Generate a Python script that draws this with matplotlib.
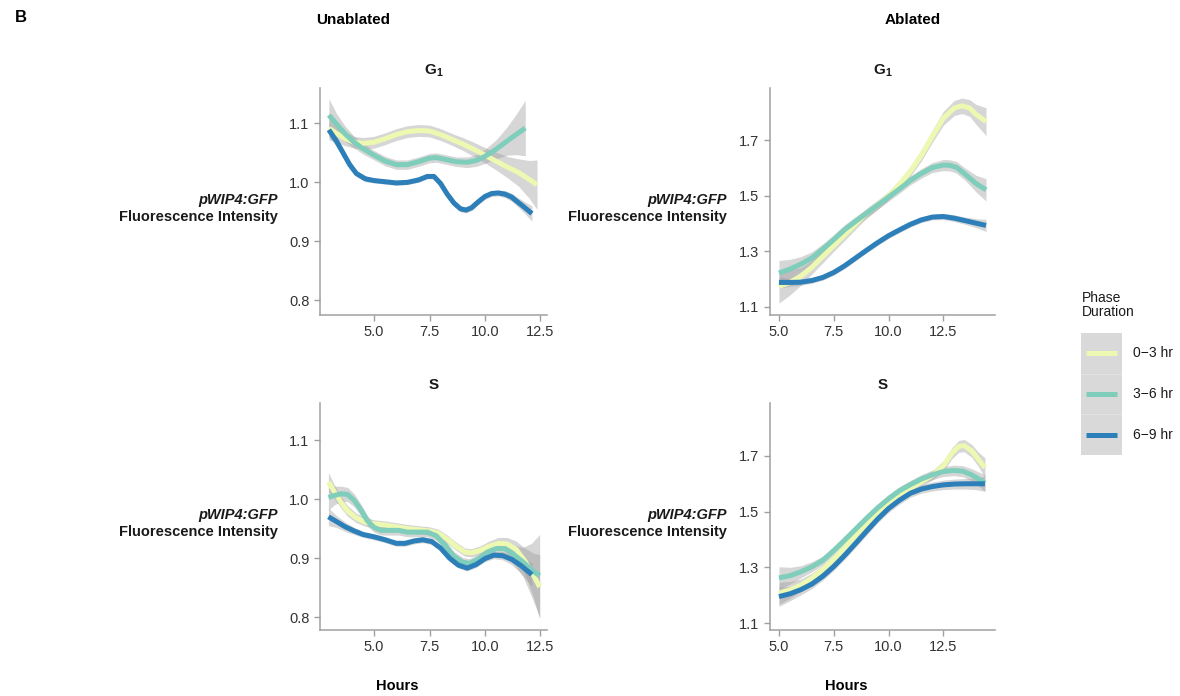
import numpy as np
import matplotlib.pyplot as plt

plt.rcParams['font.family'] = ['Liberation Sans', 'DejaVu Sans']
plt.rcParams['mathtext.fontset'] = 'custom'
plt.rcParams['mathtext.rm'] = 'Liberation Sans'
plt.rcParams['mathtext.bf'] = 'Liberation Sans:bold'

phases = ['0\u22123 hr', '3\u22126 hr', '6\u22129 hr']
colors = ['#edf8b1', '#7fcdbb', '#2c7fb8']

# Unablated, G1  (order: 0-3 hr, 3-6 hr, 6-9 hr)
ug1_x = [[2.96, 3.3, 3.7, 4.1, 4.5, 5.0, 5.5, 6.0, 6.5, 7.0, 7.5, 8.0, 8.5, 9.0, 9.5, 10.0, 10.5, 11.0, 11.5, 12.0, 12.35],
         [2.96, 3.3, 3.7, 4.1, 4.5, 5.0, 5.5, 6.0, 6.5, 7.0, 7.5, 7.8, 8.2, 8.7, 9.2, 9.6, 10.0, 10.5, 11.0, 11.4, 11.82],
         [2.96, 3.3, 3.6, 3.9, 4.2, 4.6, 5.0, 5.5, 6.0, 6.5, 7.0, 7.4, 7.7, 8.0, 8.3, 8.6, 8.9, 9.15, 9.4, 9.7,
          10.0, 10.3, 10.6, 10.9, 11.2, 11.5, 11.8, 12.12]]
ug1_y = [[1.092, 1.083, 1.074, 1.068, 1.066, 1.068, 1.074, 1.081, 1.086, 1.088, 1.087, 1.081, 1.073, 1.065, 1.056,
          1.046, 1.036, 1.026, 1.017, 1.005, 0.996],
         [1.114, 1.099, 1.082, 1.068, 1.057, 1.046, 1.036, 1.030, 1.030, 1.035, 1.041, 1.042, 1.039, 1.035, 1.034,
          1.037, 1.044, 1.056, 1.070, 1.081, 1.092],
         [1.089, 1.070, 1.050, 1.030, 1.015, 1.006, 1.003, 1.001, 0.999, 1.000, 1.004, 1.010, 1.010, 0.998, 0.980,
          0.965, 0.955, 0.953, 0.957, 0.967, 0.976, 0.981, 0.982, 0.980, 0.975, 0.966, 0.957, 0.947]]
ug1_se = [[0.020, 0.015, 0.012, 0.010, 0.010, 0.010, 0.010, 0.010, 0.010, 0.010, 0.010, 0.010, 0.010, 0.011, 0.012,
           0.013, 0.015, 0.018, 0.023, 0.032, 0.042],
          [0.028, 0.018, 0.013, 0.010, 0.009, 0.008, 0.008, 0.008, 0.008, 0.008, 0.008, 0.008, 0.008, 0.008, 0.009,
           0.010, 0.012, 0.016, 0.024, 0.034, 0.047],
          [0.012, 0.009, 0.007, 0.006, 0.005, 0.005, 0.004, 0.004, 0.004, 0.004, 0.004, 0.004, 0.004, 0.004, 0.005,
           0.005, 0.005, 0.005, 0.005, 0.005, 0.005, 0.005, 0.005, 0.006, 0.007, 0.008, 0.010, 0.013]]

# Ablated, G1
ag1_x = [[5.0, 5.5, 6.0, 6.5, 7.0, 7.5, 8.0, 8.5, 9.0, 9.5, 10.0, 10.5, 11.0, 11.5, 12.0, 12.5, 13.0, 13.35, 13.7,
          14.0, 14.45],
         [5.0, 5.5, 6.0, 6.5, 7.0, 7.5, 8.0, 8.5, 9.0, 9.5, 10.0, 10.5, 11.0, 11.5, 12.0, 12.5, 12.8, 13.1, 13.5,
          14.0, 14.45],
         [5.0, 5.5, 6.0, 6.5, 7.0, 7.5, 8.0, 8.5, 9.0, 9.5, 10.0, 10.5, 11.0, 11.5, 12.0, 12.5, 13.0, 13.5, 14.0,
          14.45]]
ag1_y = [[1.174, 1.188, 1.210, 1.243, 1.281, 1.320, 1.359, 1.398, 1.437, 1.467, 1.500, 1.540, 1.588, 1.645, 1.713,
          1.778, 1.815, 1.823, 1.815, 1.792, 1.766],
         [1.222, 1.236, 1.254, 1.276, 1.308, 1.342, 1.378, 1.408, 1.437, 1.466, 1.495, 1.524, 1.555, 1.580, 1.601,
          1.610, 1.609, 1.602, 1.577, 1.543, 1.521],
         [1.188, 1.188, 1.189, 1.195, 1.206, 1.224, 1.248, 1.276, 1.304, 1.331, 1.356, 1.377, 1.397, 1.413, 1.423,
          1.425, 1.419, 1.410, 1.401, 1.393]]
ag1_se = [[0.060, 0.045, 0.032, 0.025, 0.022, 0.020, 0.020, 0.018, 0.018, 0.017, 0.016, 0.017, 0.018, 0.020, 0.022,
           0.025, 0.027, 0.028, 0.030, 0.036, 0.050],
          [0.045, 0.035, 0.027, 0.022, 0.019, 0.018, 0.018, 0.017, 0.016, 0.015, 0.015, 0.015, 0.016, 0.017, 0.018,
           0.020, 0.020, 0.021, 0.022, 0.030, 0.040],
          [0.020, 0.014, 0.011, 0.010, 0.010, 0.010, 0.010, 0.010, 0.010, 0.010, 0.010, 0.010, 0.010, 0.010, 0.010,
           0.011, 0.012, 0.013, 0.016, 0.022]]

# Unablated, S
us_x = [[2.94, 3.2, 3.5, 3.8, 4.2, 4.6, 5.0, 5.5, 6.0, 6.5, 7.0, 7.5, 7.9, 8.3, 8.7, 9.1, 9.4, 9.8, 10.2, 10.6,
         11.0, 11.4, 11.8, 12.2, 12.47],
        [2.94, 3.2, 3.5, 3.8, 4.1, 4.4, 4.7, 5.0, 5.3, 5.7, 6.1, 6.5, 7.0, 7.4, 7.8, 8.2, 8.6, 9.0, 9.3, 9.7, 10.1,
         10.5, 10.9, 11.3, 11.7, 12.1, 12.47],
        [2.94, 3.3, 3.7, 4.1, 4.5, 5.0, 5.5, 6.0, 6.4, 6.8, 7.2, 7.6, 8.0, 8.4, 8.8, 9.2, 9.6, 10.0, 10.4, 10.8, 11.2,
         11.6, 12.12]]
us_y = [[1.029, 1.013, 0.995, 0.980, 0.968, 0.961, 0.958, 0.956, 0.953, 0.950, 0.948, 0.946, 0.942, 0.932, 0.920,
         0.910, 0.909, 0.913, 0.920, 0.925, 0.924, 0.915, 0.895, 0.870, 0.851],
        [1.003, 1.006, 1.009, 1.008, 0.998, 0.982, 0.963, 0.952, 0.947, 0.947, 0.947, 0.944, 0.944, 0.944, 0.938,
         0.922, 0.903, 0.893, 0.891, 0.898, 0.910, 0.916, 0.916, 0.906, 0.894, 0.880, 0.870],
        [0.970, 0.962, 0.953, 0.946, 0.940, 0.936, 0.931, 0.925, 0.925, 0.929, 0.931, 0.928, 0.917, 0.900, 0.888,
         0.883, 0.889, 0.899, 0.905, 0.904, 0.898, 0.888, 0.872]]
us_se = [[0.016, 0.012, 0.010, 0.009, 0.008, 0.007, 0.007, 0.007, 0.007, 0.007, 0.007, 0.007, 0.007, 0.007, 0.007,
          0.007, 0.007, 0.008, 0.009, 0.010, 0.011, 0.014, 0.022, 0.038, 0.055],
         [0.022, 0.016, 0.013, 0.012, 0.011, 0.010, 0.009, 0.008, 0.008, 0.008, 0.008, 0.008, 0.008, 0.008, 0.008,
          0.008, 0.008, 0.008, 0.008, 0.008, 0.009, 0.010, 0.012, 0.016, 0.024, 0.045, 0.070],
         [0.015, 0.010, 0.008, 0.006, 0.005, 0.005, 0.005, 0.005, 0.005, 0.005, 0.005, 0.005, 0.005, 0.005, 0.005,
          0.005, 0.005, 0.005, 0.006, 0.007, 0.009, 0.013, 0.020]]

# Ablated, S
as_x = [[5.0, 5.5, 6.0, 6.5, 7.0, 7.5, 8.0, 8.5, 9.0, 9.5, 10.0, 10.5, 11.0, 11.5, 12.0, 12.5, 12.9, 13.2, 13.45,
         13.8, 14.1, 14.4],
        [5.0, 5.5, 6.0, 6.5, 7.0, 7.5, 8.0, 8.5, 9.0, 9.5, 10.0, 10.5, 11.0, 11.5, 12.0, 12.5, 13.0, 13.4, 13.8,
         14.1, 14.4],
        [5.0, 5.5, 6.0, 6.5, 7.0, 7.5, 8.0, 8.5, 9.0, 9.5, 10.0, 10.5, 11.0, 11.5, 12.0, 12.5, 13.0, 13.5, 14.0,
         14.4]]
as_y = [[1.207, 1.219, 1.236, 1.261, 1.292, 1.329, 1.371, 1.415, 1.458, 1.498, 1.532, 1.561, 1.584, 1.607, 1.630,
         1.664, 1.710, 1.734, 1.737, 1.718, 1.688, 1.658],
        [1.262, 1.270, 1.284, 1.302, 1.325, 1.360, 1.398, 1.437, 1.476, 1.513, 1.546, 1.575, 1.597, 1.617, 1.632,
         1.644, 1.648, 1.645, 1.632, 1.618, 1.603],
        [1.195, 1.205, 1.220, 1.240, 1.268, 1.303, 1.343, 1.386, 1.430, 1.473, 1.511, 1.541, 1.566, 1.581, 1.590,
         1.596, 1.599, 1.600, 1.600, 1.600]]
as_se = [[0.040, 0.030, 0.022, 0.018, 0.016, 0.015, 0.015, 0.015, 0.015, 0.015, 0.015, 0.015, 0.015, 0.016, 0.017,
          0.018, 0.020, 0.021, 0.022, 0.023, 0.026, 0.035],
         [0.040, 0.030, 0.022, 0.018, 0.016, 0.015, 0.015, 0.015, 0.015, 0.015, 0.015, 0.015, 0.015, 0.016, 0.017,
          0.018, 0.019, 0.020, 0.022, 0.025, 0.030],
         [0.035, 0.025, 0.019, 0.016, 0.014, 0.014, 0.014, 0.014, 0.014, 0.014, 0.014, 0.014, 0.014, 0.015, 0.016,
          0.017, 0.018, 0.019, 0.021, 0.027]]

W, H = 1180, 696
fig = plt.figure(figsize=(W / 100, H / 100), dpi=100)


def px_axes(x0, y0, x1, y1):
    return fig.add_axes([x0 / W, 1 - y1 / H, (x1 - x0) / W, (y1 - y0) / H])


def draw_panel(ax, xs, ys, ses, xlim, ylim, yticks, title):
    for i in range(3):
        x = np.array(xs[i])
        y = np.array(ys[i])
        se = np.array(ses[i])
        ax.fill_between(x, y - se, y + se, color='#999999', alpha=0.4, lw=0, zorder=1)
    for i in range(3):
        ax.plot(xs[i], ys[i], color=colors[i], lw=3.6, solid_capstyle='butt',
                solid_joinstyle='round', zorder=2 + i)
    ax.set_xlim(*xlim)
    ax.set_ylim(*ylim)
    ax.set_xticks([5.0, 7.5, 10.0, 12.5])
    ax.set_xticklabels(['5.0', '7.5', '10.0', '12.5'])
    ax.set_yticks(yticks)
    ax.set_yticklabels([f'{t:.1f}' for t in yticks])
    for s in ['top', 'right']:
        ax.spines[s].set_visible(False)
    for s in ['left', 'bottom']:
        ax.spines[s].set_color('#a0a0a0')
        ax.spines[s].set_linewidth(1.1)
    ax.tick_params(colors='#a0a0a0', labelcolor='#333333', labelsize=10.5, length=4, width=1)
    ax.set_title(title, fontsize=11, fontweight='bold', pad=10, color='#1a1a1a')


ax1 = px_axes(320, 88, 547, 315)
draw_panel(ax1, ug1_x, ug1_y, ug1_se, (2.56, 12.8), (0.775, 1.16), [0.8, 0.9, 1.0, 1.1], r'$\mathbf{G_{1}}$')
ax2 = px_axes(770, 88, 995, 315)
draw_panel(ax2, ag1_x, ag1_y, ag1_se, (4.59, 14.86), (1.071, 1.887), [1.1, 1.3, 1.5, 1.7], r'$\mathbf{G_{1}}$')
ax3 = px_axes(320, 403, 547, 630)
draw_panel(ax3, us_x, us_y, us_se, (2.56, 12.8), (0.778, 1.163), [0.8, 0.9, 1.0, 1.1], 'S')
ax4 = px_axes(770, 403, 995, 630)
draw_panel(ax4, as_x, as_y, as_se, (4.59, 14.86), (1.075, 1.89), [1.1, 1.3, 1.5, 1.7], 'S')

# column headers and panel letter
fig.text(15 / W, 1 - 18 / H, 'B', fontsize=12, fontweight='bold', va='center')
fig.text(353 / W, 1 - 20 / H, 'Unablated', fontsize=11, fontweight='bold', ha='center', va='center')
fig.text(913 / W, 1 - 20 / H, 'Ablated', fontsize=11, fontweight='bold', ha='center', va='center')

# y labels
for xr, yc in [(278, 200), (727, 200), (278, 515), (727, 515)]:
    fig.text(xr / W, 1 - yc / H, 'pWIP4:GFP', fontsize=10.5, fontweight='bold', style='italic',
             ha='right', va='center', color='#1a1a1a')
    fig.text(xr / W, 1 - (yc + 17) / H, 'Fluorescence Intensity', fontsize=10.5, fontweight='bold',
             ha='right', va='center', color='#1a1a1a')

# x labels
fig.text(397 / W, 1 - 686 / H, 'Hours', fontsize=10.5, fontweight='bold', ha='center', va='center')
fig.text(846 / W, 1 - 686 / H, 'Hours', fontsize=10.5, fontweight='bold', ha='center', va='center')

# legend
fig.text(1082 / W, 1 - 305 / H, 'Phase\nDuration', fontsize=10, ha='left', va='center',
         linespacing=1.0, color='#1a1a1a')
axl = px_axes(1081, 333, 1122, 455)
axl.set_facecolor('#d9d9d9')
axl.set_xlim(0, 1)
axl.set_ylim(0, 3)
for s in axl.spines.values():
    s.set_visible(False)
axl.set_xticks([])
axl.set_yticks([])
for i in range(3):
    yy = 2.5 - i
    axl.plot([0.12, 0.88], [yy, yy], color=colors[i], lw=3.6, solid_capstyle='butt')
    axl.text(1.28, yy, phases[i], transform=axl.transData, fontsize=10, va='center',
             ha='left', clip_on=False, color='#1a1a1a')
for yy in [1, 2]:
    axl.axhline(yy, color='#e6e6e6', lw=0.6)

fig.savefig('out.png', dpi=100)
